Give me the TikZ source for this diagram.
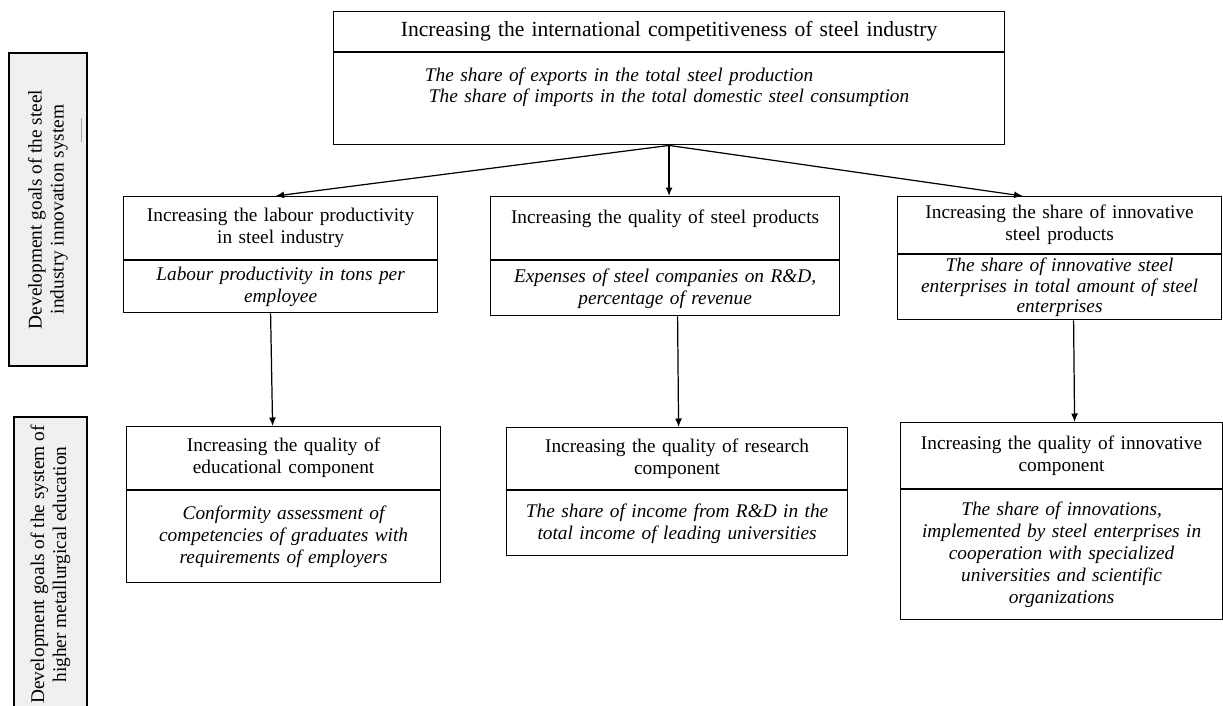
\documentclass[tikz,border=0pt]{standalone}
\usepackage{fontspec}
\setmainfont{Liberation Serif}
\usetikzlibrary{positioning,arrows.meta}

\begin{document}
\begin{tikzpicture}[
    x = 0.02cm, y = -0.02cm,
    > = {Latex[length=1.7mm,width=1.4mm]},
    line width = 0.7pt,
    font = \fontsize{11}{12.5}\selectfont,
    goal/.style = {draw, rectangle, align=center, inner xsep=0.1cm, inner ysep=1pt, anchor=north west},
    measure/.style = {goal, font=\fontsize{11}{12.5}\selectfont\itshape},
    level/.style = {draw, fill=black!6, rotate=90, align=center, inner sep=1pt}
]
\useasboundingbox (0,0) rectangle (1223,706);

% Levels
\node[level, minimum width=6.26cm, minimum height=1.56cm] (indgoals) at (48,209.5)
    {Development goals of the steel\\industry innovation system};
\node[level, minimum width=5.9cm, minimum height=1.46cm] (edugoals) at (50.5,564.5)
    {Development goals of the system of\\higher metallurgical education};
\draw[black!35, line width=0.5pt] (81,118) -- (81,142);

% Top goal
\node[goal, minimum width=13.42cm, text width=13.22cm, minimum height=0.8cm,
      font=\fontsize{12.3}{14}\selectfont] (compet) at (333,11)
    {Increasing the international competitiveness of steel industry};
\node[measure, minimum width=13.42cm, text width=13.22cm, minimum height=1.84cm] (competm) [below=0pt of compet]
    {The share of exports in the total steel production\hspace{2cm}\mbox{}\\
     The share of imports in the total domestic steel consumption\\[3pt]~};

% Steel industry goals
\node[goal, minimum width=6.28cm, text width=6.08cm, minimum height=1.26cm] (labour) at (123,196)
    {Increasing the labour productivity\\in steel industry};
\node[measure, minimum width=6.28cm, text width=6.08cm, minimum height=1.04cm] (labourm) [below=0pt of labour]
    {Labour productivity in tons per\\employee};

\node[goal, minimum width=6.98cm, text width=6.78cm, minimum height=1.26cm] (quality) at (490,196)
    {Increasing the quality of steel products\\~};
\node[measure, minimum width=6.98cm, text width=6.78cm, minimum height=1.1cm] (qualitym) [below=0pt of quality]
    {Expenses of steel companies on R\&D,\\percentage of revenue};

\node[goal, minimum width=6.48cm, text width=6.28cm, minimum height=1.14cm] (share) at (897,196)
    {Increasing the share of innovative\\steel products};
\node[measure, minimum width=6.48cm, text width=6.28cm, minimum height=1.3cm, inner ysep=0pt,
      font=\fontsize{11}{11.6}\selectfont\itshape] (sharem) [below=0pt of share]
    {The share of innovative steel\\enterprises in total amount of steel\\enterprises};

% Education goals
\node[goal, minimum width=6.28cm, text width=6.08cm, minimum height=1.26cm] (educ) at (126,426)
    {Increasing the quality of\\educational component};
\node[measure, minimum width=6.28cm, text width=6.08cm, minimum height=1.84cm] (educm) [below=0pt of educ]
    {Conformity assessment of\\competencies of graduates with\\requirements of employers};

\node[goal, minimum width=6.82cm, text width=6.62cm, minimum height=1.24cm] (research) at (506,427)
    {Increasing the quality of research\\component};
\node[measure, minimum width=6.82cm, text width=6.62cm, minimum height=1.3cm] (researchm) [below=0pt of research]
    {The share of income from R\&D in the\\total income of leading universities};

\node[goal, minimum width=6.44cm, text width=6.24cm, minimum height=1.32cm] (innov) at (900,422)
    {Increasing the quality of innovative\\component};
\node[measure, minimum width=6.44cm, text width=6.24cm, minimum height=2.6cm] (innovm) [below=0pt of innov]
    {The share of innovations,\\implemented by steel enterprises in\\cooperation with specialized\\universities and scientific\\organizations};

% Arrows
\draw[->] (competm.south) -- ([xshift=-0.1cm]labour.north);
\draw[->] (competm.south) -- (competm.south |- quality.north);
\draw[->] (competm.south) -- ([xshift=-0.74cm]share.north);
\draw[->] ([xshift=-0.2cm]labourm.south) -- ([xshift=-0.22cm]educ.north);
\draw[->] ([xshift=0.25cm]qualitym.south) -- ([xshift=0.03cm]research.north);
\draw[->] ([xshift=0.28cm]sharem.south) -- ([xshift=0.26cm]innov.north);

\end{tikzpicture}
\end{document}
